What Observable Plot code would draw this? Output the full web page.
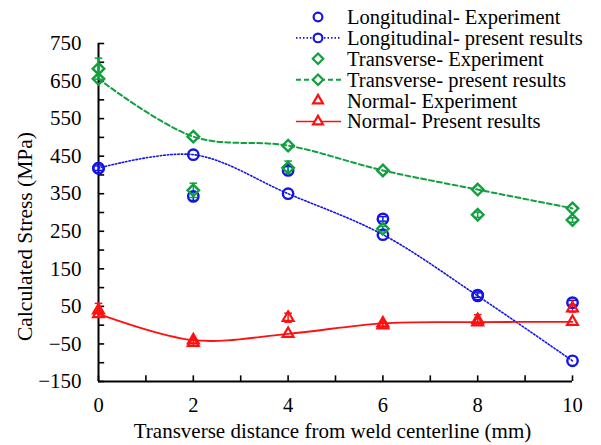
<!DOCTYPE html>
<html>
<head>
<meta charset="utf-8">
<script src="https://cdn.jsdelivr.net/npm/d3@7"></script>
<script src="https://cdn.jsdelivr.net/npm/@observablehq/plot@0.6"></script>
<style>
  html, body { margin: 0; padding: 0; background: #fff; }
  #wrap { position: relative; width: 601px; height: 445px; font-family: 'Liberation Serif', 'Times New Roman', serif; }
  #legend { position: absolute; left: 0; top: 0; }
</style>
</head>
<body>
<div id="wrap"></div>
<script>
// ---- data ----
const distances = [0, 2, 4, 6, 8, 10];
const longExp  = [418, 343, 412, 283, 80, 60];
const longErr  = [6, 11, 10, 6, 6, 6];
const longPres = [418, 454, 350, 241, 78, -95];
const transExp  = [683, 359, 419, 257, 294, 280];
const transErr  = [28, 19, 18, 6, 7, 6];
const transPres = [656, 502, 478, 412, 361, 311];
const normExp  = [40, -47, 20, 0, 14, 45];
const normErr  = [18, 8, 12, 8, 14, 10];
const normPres = [30, -40, -23, 5, 8, 9];
const yMajor = [-150, -50, 50, 150, 250, 350, 450, 550, 650, 750];
const yMinor = [-100, 0, 100, 200, 300, 400, 500, 600, 700];
const xMajor = [0, 2, 4, 6, 8, 10];
const xMinor = [1, 3, 5, 7, 9];
const seriesNames = [
  "Longitudinal- Experiment", "Longitudinal- present results",
  "Transverse- Experiment", "Transverse- present results",
  "Normal- Experiment", "Normal- Present results"
];
const xLabel = "Transverse distance from weld centerline (mm)";
const yLabel = "Calculated Stress (MPa)";

const FONT = "'Liberation Serif', 'Times New Roman', serif";
const BLUE = "#1414e6", GREEN = "#10a040", RED = "#ff1010";

const rows = (vals, errs) => distances.map((x, i) => ({x, y: vals[i], e: errs ? errs[i] : 0}));
const lExp = rows(longExp, longErr), lPres = rows(longPres);
const tExp = rows(transExp, transErr), tPres = rows(transPres);
const nExp = rows(normExp, normErr), nPres = rows(normPres);

function errMarks(data, color) {
  return [
    Plot.ruleX(data, {x: "x", y1: d => d.y - d.e, y2: d => d.y + d.e, stroke: color, strokeWidth: 1.5}),
    Plot.link(data, {x1: d => d.x - 0.08, x2: d => d.x + 0.08, y1: d => d.y + d.e, y2: d => d.y + d.e, stroke: color, strokeWidth: 1.5}),
    Plot.link(data, {x1: d => d.x - 0.08, x2: d => d.x + 0.08, y1: d => d.y - d.e, y2: d => d.y - d.e, stroke: color, strokeWidth: 1.5})
  ];
}

const chart = Plot.plot({
  width: 601, height: 445,
  marginLeft: 98, marginRight: 29, marginTop: 43, marginBottom: 64,
  x: {domain: [0, 10]},
  y: {domain: [-150, 750]},
  style: {fontFamily: FONT, fontSize: "21px", color: "#000", background: "transparent"},
  marks: [
    Plot.axisY(yMajor, {tickSize: 0, tickPadding: 17, fontSize: 21, label: null}),
    Plot.axisX(xMajor, {tickSize: 0, tickPadding: 16, fontSize: 20.5, label: null}),
    Plot.ruleY(yMajor.concat(yMinor), {x1: 0, x2: 0.13, stroke: "#000", strokeWidth: 1.6}),
    Plot.ruleX(xMajor.concat(xMinor), {y1: -150, y2: -135, stroke: "#000", strokeWidth: 1.6}),
    Plot.ruleX([0], {stroke: "#000", strokeWidth: 2}),
    Plot.ruleY([-150], {stroke: "#000", strokeWidth: 2}),
    // present results lines
    Plot.line(lPres, {x: "x", y: "y", curve: "catmull-rom", stroke: BLUE, strokeWidth: 1.6, strokeDasharray: "1.5,2"}),
    Plot.line(tPres, {x: "x", y: "y", curve: "catmull-rom", stroke: GREEN, strokeWidth: 2, strokeDasharray: "5,3"}),
    Plot.line(nPres, {x: "x", y: "y", curve: "catmull-rom", stroke: RED, strokeWidth: 1.8}),
    // error bars
    ...errMarks(lExp, BLUE), ...errMarks(tExp, GREEN), ...errMarks(nExp, RED),
    // markers
    Plot.dot(lPres, {x: "x", y: "y", r: 5.2, stroke: BLUE, strokeWidth: 2.4, fill: "none"}),
    Plot.dot(lExp, {x: "x", y: "y", r: 5.2, stroke: BLUE, strokeWidth: 2.4, fill: "none"}),
    Plot.dot(tPres, {x: "x", y: "y", r: 5.2, symbol: "diamond2", stroke: GREEN, strokeWidth: 2.4, fill: "none"}),
    Plot.dot(tExp, {x: "x", y: "y", r: 5.2, symbol: "diamond2", stroke: GREEN, strokeWidth: 2.4, fill: "none"}),
    Plot.dot(nPres, {x: "x", y: "y", r: 5.2, symbol: "triangle2", stroke: RED, strokeWidth: 2.2, fill: "none"}),
    Plot.dot(nExp, {x: "x", y: "y", r: 5.2, symbol: "triangle2", stroke: RED, strokeWidth: 2.2, fill: "none"}),
    // axis titles
    Plot.text([yLabel], {frameAnchor: "left", textAnchor: "middle", lineAnchor: "middle", rotate: -90, dx: -73, dy: 24, fontSize: 21.5, fill: "#000"}),
    Plot.text([xLabel], {frameAnchor: "bottom", textAnchor: "middle", lineAnchor: "middle", dx: -3, dy: 50, fontSize: 21, fill: "#000"})
  ]
});
document.getElementById("wrap").appendChild(chart);

// ---- legend (HTML overlay) ----
const leg = d3.select("#wrap").append("svg").attr("id", "legend").attr("width", 601).attr("height", 140);
const items = [
  {c: BLUE, sym: d3.symbolCircle, line: null},
  {c: BLUE, sym: d3.symbolCircle, line: "1.5,2"},
  {c: GREEN, sym: d3.symbolDiamond2, line: null},
  {c: GREEN, sym: d3.symbolDiamond2, line: "5,3"},
  {c: RED, sym: d3.symbolTriangle2, line: null},
  {c: RED, sym: d3.symbolTriangle2, line: ""}
];
items.forEach((it, i) => {
  const y = 17 + i * 20.9;
  const g = leg.append("g");
  if (it.line !== null) {
    g.append("line").attr("x1", 296).attr("x2", 341).attr("y1", y).attr("y2", y)
      .attr("stroke", it.c).attr("stroke-width", it.c === GREEN ? 2 : 1.6)
      .attr("stroke-dasharray", it.line || null);
  }
  const size = it.sym === d3.symbolCircle ? 60 : 70;
  g.append("path").attr("d", d3.symbol(it.sym, size)()).attr("transform", `translate(318,${y})`)
    .attr("fill", "#fff").attr("stroke", it.c).attr("stroke-width", 2.2);
  g.append("text").attr("x", 347).attr("y", y).attr("dy", "0.34em")
    .style("font-family", FONT).attr("font-size", 20.5)
    .attr("fill", "#000").text(seriesNames[i]);
});
</script>
</body>
</html>
